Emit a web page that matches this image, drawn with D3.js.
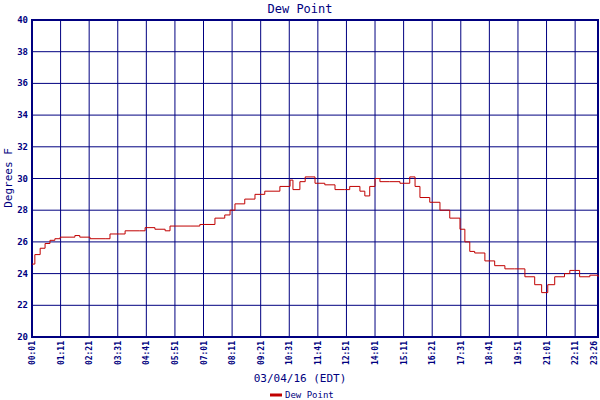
<!DOCTYPE html><html><head><meta charset="utf-8">
<script src="https://cdn.jsdelivr.net/npm/d3@7"></script>
<style>body{margin:0;background:#fff}text{font-family:"DejaVu Sans Mono",monospace}</style></head><body>
<svg id="c" width="600" height="400"></svg>
<script>
const minutes=[1,8,21,33,45,57,70,94,106,118,143,180,192,216,229,265,278,302,327,339,388,412,449,473,486,498,522,547,571,608,633,640,657,670,694,718,743,767,779,804,816,828,841,853,877,902,926,939,951,975,1000,1024,1049,1061,1073,1085,1110,1134,1159,1183,1208,1232,1249,1264,1281,1305,1318,1330,1342,1367,1387];
const dewPoint=[24.6,25.2,25.6,25.9,26.1,26.2,26.3,26.3,26.4,26.3,26.2,26.2,26.5,26.5,26.7,26.7,26.9,26.8,26.7,27.0,27.0,27.1,27.5,27.7,28.0,28.4,28.7,29.0,29.2,29.5,29.9,29.3,29.8,30.1,29.7,29.6,29.3,29.3,29.5,29.2,28.9,29.5,30.0,29.8,29.8,29.7,30.1,29.5,28.8,28.5,28.0,27.5,26.8,26.0,25.4,25.3,24.8,24.5,24.3,24.3,23.8,23.3,22.8,23.3,23.8,24.0,24.2,24.2,23.8,23.9,23.8];
const tickMinutes=[1,71,141,211,281,351,421,491,561,631,701,771,841,911,981,1051,1121,1191,1261,1331,1387];
const tickLabels=["00:01","01:11","02:21","03:31","04:41","05:51","07:01","08:11","09:21","10:31","11:41","12:51","14:01","15:11","16:21","17:31","18:41","19:51","21:01","22:11","23:26"];
const yTicks=[20,22,24,26,28,30,32,34,36,38,40];
const navy="#000080",L=32,R=598,T=20,B=337;
const svg=d3.select("#c");
const x=d3.scaleLinear().domain([1,1387]).range([L,R]);
const y=d3.scaleLinear().domain([20,40]).range([B,T]);
svg.append("text").attr("x",300).attr("y",13).attr("text-anchor","middle").attr("fill",navy).attr("font-size",12).text("Dew Point");
const g=svg.append("g");
g.selectAll(".h").data(yTicks).join("line").attr("x1",L).attr("x2",R).attr("y1",d=>y(d)).attr("y2",d=>y(d)).attr("stroke",navy);
g.selectAll(".v").data(tickMinutes).join("line").attr("x1",d=>x(d)).attr("x2",d=>x(d)).attr("y1",T).attr("y2",B).attr("stroke",navy);
g.append("rect").attr("x",L).attr("y",T).attr("width",R-L).attr("height",B-T).attr("fill","none").attr("stroke",navy).attr("stroke-width",2);
g.selectAll(".yl").data(yTicks).join("text").attr("x",L-4).attr("y",d=>y(d)+3).attr("text-anchor","end").attr("font-size",9).attr("font-weight","bold").attr("fill",navy).text(d=>d);
g.selectAll(".xl").data(tickMinutes).join("text").attr("transform",(d,i)=>`translate(${Math.min(x(d)+3,597)},${B+4}) rotate(-90)`).attr("text-anchor","end").attr("font-size",8).attr("font-weight","bold").attr("fill",navy).text((d,i)=>tickLabels[i]);
svg.append("text").attr("transform","translate(12,178) rotate(-90)").attr("text-anchor","middle").attr("font-size",11).attr("fill",navy).text("Degrees F");
svg.append("text").attr("x",300).attr("y",382).attr("text-anchor","middle").attr("font-size",11).attr("fill",navy).text("03/04/16 (EDT)");
svg.append("line").attr("x1",270).attr("x2",282).attr("y1",395).attr("y2",395).attr("stroke","#c00000").attr("stroke-width",3);
svg.append("text").attr("x",285).attr("y",398).attr("font-size",9).attr("fill",navy).text("Dew Point");
const data=minutes.map((m,i)=>[m,dewPoint[i]]);
svg.append("path").datum(data).attr("fill","none").attr("stroke","#c00000").attr("stroke-width",1)
 .attr("d",d3.line().x(d=>x(d[0])).y(d=>y(d[1])).curve(d3.curveStepAfter));
</script></body></html>
